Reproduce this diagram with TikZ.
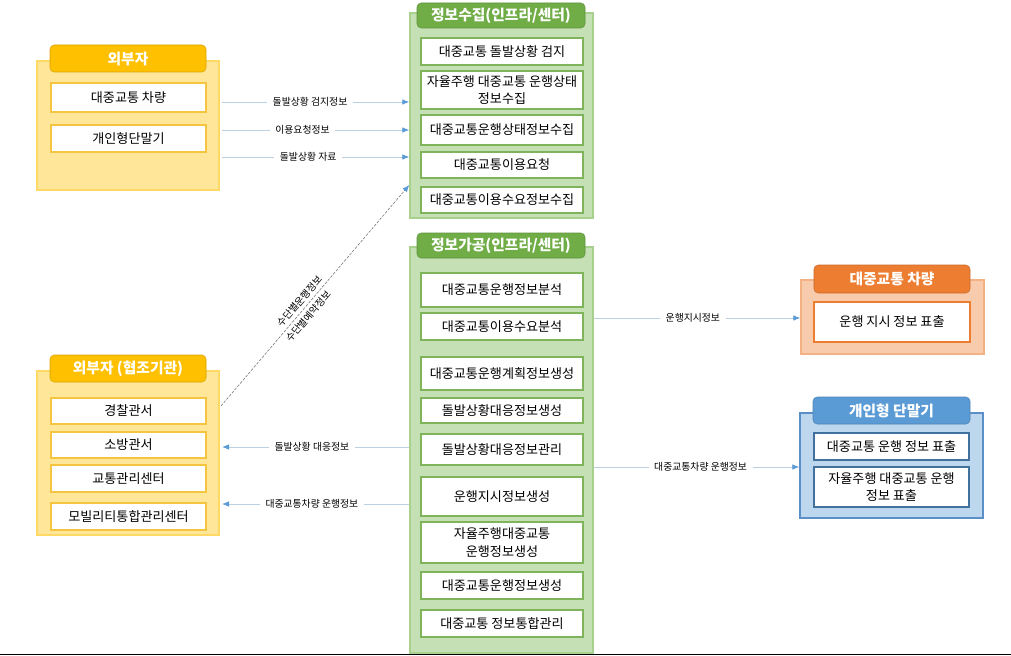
\documentclass[tikz,border=0pt]{standalone}
\usepackage{fontspec}
\setmainfont{Noto Sans CJK KR}
\usepackage{tikz}
\usetikzlibrary{positioning,arrows.meta}

\definecolor{ydark}{HTML}{FFC000}
\definecolor{yfill}{HTML}{FFE699}
\definecolor{yline}{HTML}{FFD966}
\definecolor{yitem}{HTML}{F5C542}
\definecolor{gdark}{HTML}{70AD47}
\definecolor{gfill}{HTML}{C5E0B4}
\definecolor{gline}{HTML}{A9D18E}
\definecolor{gitem}{HTML}{7FB45A}
\definecolor{odark}{HTML}{ED7D31}
\definecolor{ofill}{HTML}{F8CBAD}
\definecolor{oline}{HTML}{F4B183}
\definecolor{oitem}{HTML}{ED7D31}
\definecolor{bdark}{HTML}{5B9BD5}
\definecolor{bfill}{HTML}{BDD7EE}
\definecolor{bline}{HTML}{5B8FC7}
\definecolor{bitem}{HTML}{41719C}
\definecolor{flowline}{HTML}{BCD0E3}
\definecolor{flowtip}{HTML}{5B9BD5}

\begin{document}
\begin{tikzpicture}[x=0.025cm, y=-0.025cm,
    wpx/.style={minimum width=#1*0.025cm},
    hpx/.style={minimum height=#1*0.025cm},
    grp/.style={draw=#1line, fill=#1fill, line width=1pt, inner sep=0pt},
    tab/.style={rounded corners=3pt, fill=#1dark, draw=#1dark!85!black, text=white,
        font=\bfseries\fontsize{10.5}{12}\selectfont, inner sep=0pt},
    item/.style={draw=#1item, fill=white, line width=0.8pt, align=center, inner sep=0pt,
        font=\fontsize{9.3}{12.5}\selectfont},
    flow/.style={draw=flowline, line width=0.6pt, -{Latex[length=5pt,width=4pt,color=flowtip]}},
    flowlbl/.style={fill=white, inner xsep=4pt, inner ysep=1pt, font=\fontsize{7}{8}\selectfont}]

    \useasboundingbox (0,0) rectangle (1011,656);

    % external: vehicle / terminal
    \node[grp=y, wpx=182, hpx=129] (ext) at (128,125.5) {};
    \node[tab=y, wpx=156, hpx=27] (extT) at (128,58.5) {외부자};
    \node[item=y, wpx=155, hpx=29] (extCar) at (128.5,97.5) {대중교통 차량};
    \node[item=y, wpx=155, hpx=27] (extTerm) at (128.5,138.5) {개인형단말기};

    % external: cooperating agencies
    \node[grp=y, wpx=182, hpx=164] (coop) at (128,453) {};
    \node[tab=y, wpx=156, hpx=27] (coopT) at (128,368.5) {외부자 (협조기관)};
    \node[item=y, wpx=155, hpx=26] (police) at (128.5,411) {경찰관서};
    \node[item=y, wpx=155, hpx=26] (fire) at (128.5,445) {소방관서};
    \node[item=y, wpx=155, hpx=27] (traffic) at (128.5,478.5) {교통관리센터};
    \node[item=y, wpx=155, hpx=27] (mobility) at (128.5,516.5) {모빌리티통합관리센터};

    % collection
    \node[grp=g, wpx=183, hpx=205] (gather) at (501.5,115.5) {};
    \node[tab=g, wpx=168, hpx=25] (gatherT) at (501,15.5) {정보수집(인프라/센터)};
    \node[item=g, wpx=162, hpx=27] (c1) at (502,51.5) {대중교통 돌발상황 검지};
    \node[item=g, wpx=162, hpx=38] (c2) at (502,90) {자율주행 대중교통 운행상태\\정보수집};
    \node[item=g, wpx=162, hpx=30] (c3) at (502,130) {대중교통운행상태정보수집};
    \node[item=g, wpx=162, hpx=26] (c4) at (502,165) {대중교통이용요청};
    \node[item=g, wpx=162, hpx=26] (c5) at (502,200) {대중교통이용수요정보수집};

    % processing
    \node[grp=g, wpx=183, hpx=406] (proc) at (501.5,450) {};
    \node[tab=g, wpx=168, hpx=25] (procT) at (501,245.5) {정보가공(인프라/센터)};
    \node[item=g, wpx=162, hpx=34] (p1) at (502,290) {대중교통운행정보분석};
    \node[item=g, wpx=162, hpx=27] (p2) at (502,326.5) {대중교통이용수요분석};
    \node[item=g, wpx=162, hpx=33] (p3) at (502,373.5) {대중교통운행계획정보생성};
    \node[item=g, wpx=162, hpx=25] (p4) at (502,410.5) {돌발상황대응정보생성};
    \node[item=g, wpx=162, hpx=31] (p5) at (502,449.5) {돌발상황대응정보관리};
    \node[item=g, wpx=162, hpx=39] (p6) at (502,496.5) {운행지시정보생성};
    \node[item=g, wpx=162, hpx=41] (p7) at (502,542.5) {자율주행대중교통\\운행정보생성};
    \node[item=g, wpx=162, hpx=27] (p8) at (502,585.5) {대중교통운행정보생성};
    \node[item=g, wpx=162, hpx=27] (p9) at (502,623.5) {대중교통 정보통합관리};

    % vehicle display
    \node[grp=o, wpx=183, hpx=74] (veh) at (892.5,317) {};
    \node[tab=o, wpx=156, hpx=28] (vehT) at (892,279) {대중교통 차량};
    \node[item=o, wpx=156, hpx=40] (vehShow) at (892,322) {운행 지시 정보 표출};

    % personal terminal display
    \node[grp=b, wpx=183, hpx=105] (term) at (891.5,465.5) {};
    \node[tab=b, wpx=157, hpx=27] (termT) at (891.5,410.5) {개인형 단말기};
    \node[item=b, wpx=155, hpx=27] (term1) at (891.5,446.5) {대중교통 운행 정보 표출};
    \node[item=b, wpx=155, hpx=40] (term2) at (891.5,487) {자율주행 대중교통 운행\\정보 표출};

    % flows
    \coordinate (s1) at (222,102);
    \coordinate (s2) at (222,130);
    \coordinate (s3) at (222,157);
    \coordinate (d0) at (221,406);
    \coordinate (d1) at (gather.west |- 0,185);
    \coordinate (r1) at (222,447);
    \coordinate (r2) at (222,504);

    \path[flow] (s1) -- (gather.west |- s1) node[flowlbl, pos=0.47] {돌발상황 검지정보};
    \path[flow] (s2) -- (gather.west |- s2) node[flowlbl, pos=0.43] {이용요청정보};
    \path[flow] (s3) -- (gather.west |- s3) node[flowlbl, pos=0.46] {돌발상황 자료};
    \path[flow] (proc.west |- r1) -- (r1) node[flowlbl, pos=0.52] {돌발상황 대응정보};
    \path[flow] (proc.west |- r2) -- (r2) node[flowlbl, pos=0.52] {대중교통차량 운행정보};
    \path[flow] (proc.east |- 0,318) -- (veh.west |- 0,318) node[flowlbl, pos=0.48] {운행지시정보};
    \path[flow] (proc.east |- 0,467) -- (term.west |- 0,467) node[flowlbl, pos=0.52] {대중교통차량 운행정보};

    % by-mode info (diagonal)
    \path[flow, draw=black!55, line width=0.4pt, dash pattern=on 2pt off 1pt] (d0) -- (d1)
        node[sloped, above=2.5pt, pos=0.45, inner sep=0pt, font=\fontsize{7}{8}\selectfont] {수단별운행정보}
        node[sloped, below=2.5pt, pos=0.43, inner sep=0pt, font=\fontsize{7}{8}\selectfont] {수단별예약정보};

    % bottom rule
    \path[draw, line width=1pt] (0,654.5) -- (1011,654.5);

\end{tikzpicture}
\end{document}
